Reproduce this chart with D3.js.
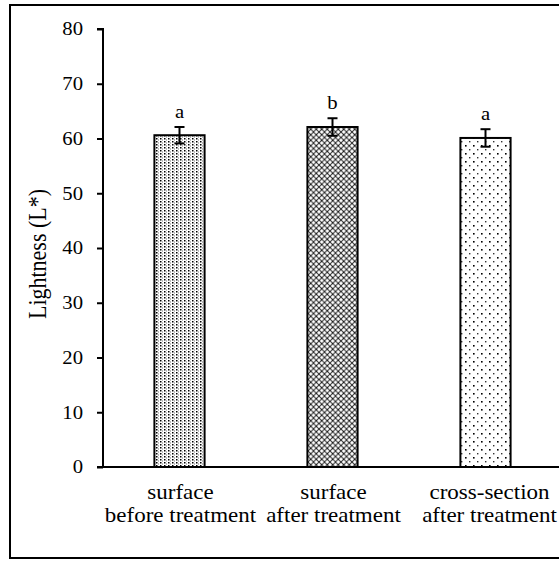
<!DOCTYPE html>
<html lang="en">
<head>
<meta charset="utf-8">
<title>Lightness chart</title>
<style>
  body { margin: 0; background: #fff; }
  svg text { font-family: "Liberation Serif", "Times New Roman", serif; fill: #000; }
</style>
</head>
<body>
<svg id="chart" width="559" height="561"></svg>
<script src="https://cdn.jsdelivr.net/npm/d3@7/dist/d3.min.js"></script>
<script>
// data
var categories = ["surface|before treatment", "surface|after treatment", "cross-section|after treatment"];
var values = [60.6, 62.1, 60.1];
var errors = [1.5, 1.6, 1.6];
var letters = ["a", "b", "a"];
var yTicks = [0, 10, 20, 30, 40, 50, 60, 70, 80];
var patterns = ["p1", "p2", "p3"];

var serif = '"Liberation Serif", "Times New Roman", serif';
var stretch = 1.15; // the reference text is a bit wider than tall
var svg = d3.select("#chart");

// outer frame
svg.append("rect")
  .attr("x", 10).attr("y", 5).attr("width", 560).attr("height", 553)
  .attr("fill", "none").attr("stroke", "#000").attr("stroke-width", 2);

// fill patterns
var defs = svg.append("defs");
var p1 = defs.append("pattern").attr("id", "p1").attr("patternUnits", "userSpaceOnUse")
  .attr("width", 4).attr("height", 3);
p1.append("rect").attr("width", 4).attr("height", 3).attr("fill", "#fff");
p1.append("rect").attr("x", 0).attr("y", 0).attr("width", 1.5).attr("height", 1.5).attr("fill", "#000");
p1.append("rect").attr("x", 2).attr("y", 1.5).attr("width", 1).attr("height", 1).attr("fill", "#777");

var p2 = defs.append("pattern").attr("id", "p2").attr("patternUnits", "userSpaceOnUse")
  .attr("width", 5.5).attr("height", 5.5);
p2.append("rect").attr("width", 5.5).attr("height", 5.5).attr("fill", "#fff");
p2.append("path").attr("d", "M0,0 L5.5,5.5 M5.5,0 L0,5.5").attr("stroke", "#222").attr("stroke-width", 1);
p2.append("rect").attr("x", 2.25).attr("y", 2.25).attr("width", 1).attr("height", 1).attr("fill", "#000");

var p3 = defs.append("pattern").attr("id", "p3").attr("patternUnits", "userSpaceOnUse")
  .attr("width", 8).attr("height", 8);
p3.append("rect").attr("width", 8).attr("height", 8).attr("fill", "#fff");
p3.append("rect").attr("x", 1).attr("y", 1).attr("width", 1.6).attr("height", 1.6).attr("fill", "#000");
p3.append("rect").attr("x", 5).attr("y", 5).attr("width", 1.4).attr("height", 1.4).attr("fill", "#333");

// scales
var x = d3.scaleBand().domain(categories).range([103, 562]).paddingInner(0.672).paddingOuter(0.336);
var y = d3.scaleLinear().domain([0, 80]).range([467, 29]);

// y axis
var yAxis = svg.append("g").attr("transform", "translate(103,0)")
  .call(d3.axisLeft(y).tickValues(yTicks).tickSize(6));
yAxis.attr("font-family", null).attr("font-size", null);
yAxis.select(".domain").attr("stroke-width", 2).attr("d", "M-6," + y(80) + "H0V" + y(0));
yAxis.selectAll(".tick line").attr("stroke-width", 2);
yAxis.selectAll(".tick text")
  .attr("x", 0)
  .attr("transform", "translate(-20,0) scale(" + stretch + ",1)")
  .style("font-family", serif).style("font-size", "18px");

// x axis line
svg.append("line")
  .attr("x1", 97).attr("x2", 562).attr("y1", y(0)).attr("y2", y(0))
  .attr("stroke", "#000").attr("stroke-width", 2);

// bars
svg.selectAll(".bar").data(values).enter().append("rect")
  .attr("class", "bar")
  .attr("x", function(d, i) { return x(categories[i]); })
  .attr("y", function(d) { return y(d); })
  .attr("width", x.bandwidth())
  .attr("height", function(d) { return y(0) - y(d); })
  .attr("fill", function(d, i) { return "url(#" + patterns[i] + ")"; })
  .attr("stroke", "#000").attr("stroke-width", 2);

// error bars
var eb = svg.selectAll(".err").data(values).enter().append("g").attr("class", "err")
  .attr("transform", function(d, i) { return "translate(" + (x(categories[i]) + x.bandwidth() / 2) + ",0)"; });
eb.append("line")
  .attr("y1", function(d, i) { return y(d + errors[i]); })
  .attr("y2", function(d, i) { return y(d - errors[i]); })
  .attr("stroke", "#000").attr("stroke-width", 2);
eb.append("line").attr("x1", -5).attr("x2", 5)
  .attr("y1", function(d, i) { return y(d + errors[i]); })
  .attr("y2", function(d, i) { return y(d + errors[i]); })
  .attr("stroke", "#000").attr("stroke-width", 2);
eb.append("line").attr("x1", -5).attr("x2", 5)
  .attr("y1", function(d, i) { return y(d - errors[i]); })
  .attr("y2", function(d, i) { return y(d - errors[i]); })
  .attr("stroke", "#000").attr("stroke-width", 2);
eb.append("text")
  .attr("text-anchor", "middle")
  .attr("transform", function(d, i) { return "translate(0," + (y(d + errors[i]) - 9) + ") scale(" + stretch + ",1)"; })
  .style("font-size", "18px")
  .text(function(d, i) { return letters[i]; });

// category labels
var cl = svg.selectAll(".cat").data(categories).enter().append("text")
  .attr("class", "cat")
  .attr("text-anchor", "middle")
  .style("font-size", "20px")
  .attr("transform", function(d, i) { return "translate(" + (x(d) + x.bandwidth() / 2 + (i === 2 ? 4 : 1)) + ",0) scale(" + stretch + ",1)"; });
cl.append("tspan").attr("x", 0).attr("y", 499).text(function(d) { return d.split("|")[0]; });
cl.append("tspan").attr("x", 0).attr("y", 522).text(function(d) { return d.split("|")[1]; });

// y label
svg.append("text")
  .attr("text-anchor", "middle")
  .attr("transform", "translate(46,254) rotate(-90) scale(1," + stretch + ")")
  .style("font-size", "22px")
  .text("Lightness (L*)");
</script>
</body>
</html>
